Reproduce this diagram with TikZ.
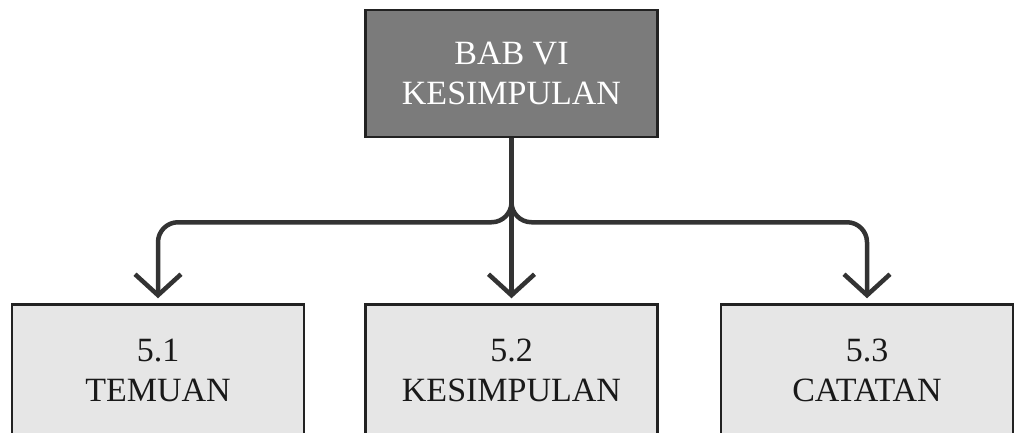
\documentclass[tikz,border=0pt]{standalone}
\usepackage{fontspec}
\setmainfont{Liberation Serif}
\usetikzlibrary{arrows.meta}
\definecolor{topfill}{HTML}{7B7B7B}
\definecolor{subfill}{HTML}{E6E6E6}
\definecolor{edge}{HTML}{222222}
\definecolor{conn}{HTML}{333333}
\tikzset{
  boxbase/.style={draw=edge, line width=2.5pt, minimum width=292pt, minimum height=127pt,
    align=center, font=\fontsize{34}{40}\selectfont, inner sep=0pt},
  topbox/.style={boxbase, fill=topfill, text=white},
  subbox/.style={boxbase, fill=subfill, text=black!90, minimum height=131pt},
  connector/.style={draw=conn, line width=4.5pt, rounded corners=20pt,
    -{Straight Barb[length=21pt,width=46pt]}, shorten >=5pt},
}
\begin{document}
\begin{tikzpicture}[x=1pt,y=-1pt]
\useasboundingbox (0,0) rectangle (1014,432);
\node[topbox] (top) at (511.5,73.5) {BAB VI\\KESIMPULAN};
\node[subbox] (s1) at (158,370) {5.1\\TEMUAN};
\node[subbox] (s2) at (511.5,370) {5.2\\KESIMPULAN};
\node[subbox] (s3) at (867,370) {5.3\\CATATAN};
\coordinate (split) at ([yshift=-84pt]top.south);
\draw[connector] (top.south) -- (split) -| (s1.north);
\draw[connector] (top.south) -- (split) -| (s3.north);
\draw[connector, rounded corners=0pt] (top.south) -- (s2.north);
\end{tikzpicture}
\end{document}
